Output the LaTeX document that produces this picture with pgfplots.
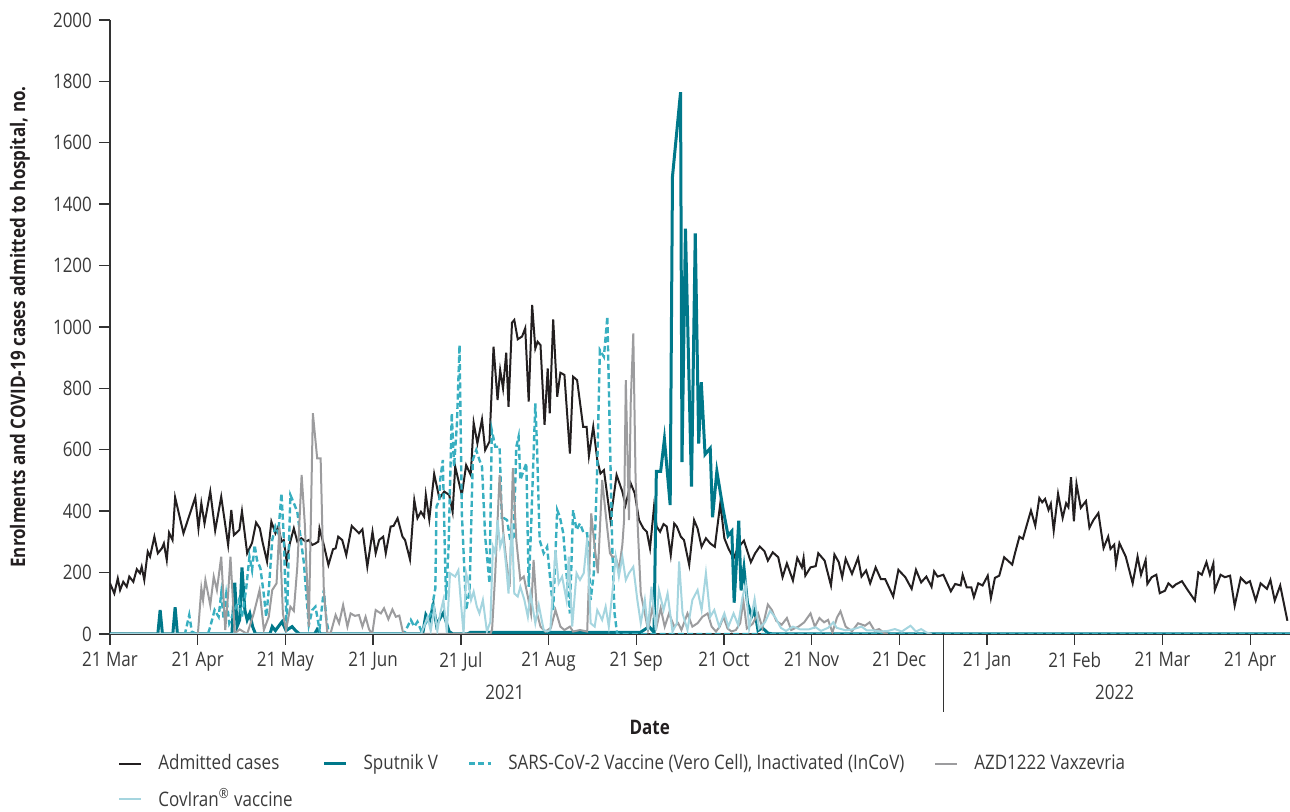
\documentclass[border=0pt]{standalone}
\usepackage{pgfplots}
\pgfplotsset{compat=1.18}
\usepackage{fontspec}
\setmainfont{Open Sans}[FakeStretch=0.85]
\definecolor{admc}{HTML}{231F20}
\definecolor{sputc}{HTML}{00788A}
\definecolor{incovc}{HTML}{38AFC0}
\definecolor{azdc}{HTML}{9C9C9E}
\definecolor{covc}{HTML}{A5D5DF}
\definecolor{axisgray}{HTML}{333333}
\definecolor{txt}{HTML}{3A3A3A}
\begin{document}
\begin{tikzpicture}
\begin{axis}[name=ax, scale only axis, width=590pt, height=307pt,
  xmin=0, xmax=409.5, ymin=0, ymax=2000,
  axis x line=bottom, axis y line=left,
  axis line style={-, draw=axisgray, line width=0.7pt},
  xtick={0,30.44,60.88,91.31,121.75,152.19,182.63,213.06,243.5,273.94,304.38,334.81,365.25,395.69},
  xticklabels={21 Mar,21 Apr,21 May,21 Jun,21 Jul,21 Aug,21 Sep,21 Oct,21 Nov,21 Dec,21 Jan,21 Feb,21 Mar,21 Apr},
  ytick={0,200,...,2000},
  tick align=outside, major tick length=5.5pt,
  tick style={draw=axisgray, line width=0.7pt},
  tick label style={font=\fontsize{10}{12}\selectfont, text=txt},
  yticklabel style={/pgf/number format/assume math mode=true, /pgf/number format/1000 sep={}},
  ylabel={Enrolments and COVID-19 cases admitted to hospital, no.},
  ylabel style={font=\fontsize{10}{12}\selectfont\bfseries, text=admc, at={(axis description cs:-0.0763,0.5)}, anchor=center},
  clip mode=individual,
  legend columns=4,
  legend cell align=left,
  legend style={draw=none, fill=none, at={(axis description cs:0.0068,-0.189)}, anchor=north west,
    inner sep=0pt, row sep=4pt, font=\fontsize{10}{12}\selectfont, text=txt,
    /tikz/every odd column/.append style={column sep=6pt},
    /tikz/every even column/.append style={column sep=13pt}},
  legend image code/.code={\draw[#1] (0pt,0pt) -- (11pt,0pt);},
]
% Admitted cases
\addplot[admc, line width=1pt] coordinates {
(0,165)(1.5,132)(2.7,181)(3.5,143)(4.6,170)(5.8,154)(6.7,187)(8.1,170)(9.3,211)(10.4,198)(11,219)(11.9,176)(13.1,268)(13.9,252)(15.4,317)(16.6,263)(18,279)(18.7,295)(19.7,241)(20.5,330)(21.7,306)(22.6,445)(25.5,328)(29.6,445)(30.7,344)(31.7,426)(32.8,360)(34.8,464)(36.5,337)(38.6,447)(41,290)(42.1,404)(43,322)(44.9,339)(45.8,400)(47.6,263)(49.3,297)(50.7,363)(52,344)(53,297)(54.5,236)(56,366)(57.4,328)(58.4,350)(59.5,301)(60.3,306)(61.3,236)(62.4,295)(63.8,344)(65,301)(66.4,312)(67.9,301)(69,306)(70.2,290)(71.3,295)(72.3,301)(72.7,344)(74.2,290)(75.8,225)(77.4,276)(78.3,279)(79.2,317)(80.6,306)(82,257)(83.9,352)(86.4,328)(87.6,341)(89.3,219)(91.1,333)(92.2,263)(93.4,306)(94.8,317)(95.7,263)(97.4,350)(98.4,352)(99.8,377)(101.5,317)(102.4,306)(104.1,243)(105.6,436)(106.7,377)(107.9,398)(109,382)(109.6,453)(110.8,373)(112.5,521)(114.3,442)(116,464)(117.7,453)(118.9,398)(119.8,545)
(122.1,453)(123.6,550)(125.2,518)(126.2,688)(127.5,621)(129.1,699)(130.2,599)(131.7,627)(133.1,936)(134.5,762)(135.4,860)(136.4,800)(137.5,916)(138.3,740)(139.5,1014)(140.3,1023)(141.5,960)(143,969)(144.1,996)(145.3,757)(146.5,1072)(147.6,930)(148.4,952)(149.4,941)(150.8,681)(151.9,865)(152.6,719)(153.8,1025)(155.2,773)(156.3,851)(157.7,844)(159.6,588)(160.7,838)(162.1,827)(164.2,675)(165.4,675)(166.2,580)(167.7,675)(169.1,567)(170.2,523)(171.4,534)(173.7,371)(175.8,518)(177.8,464)(178.9,420)(180.7,491)(182.1,458)(183.6,371)(185.1,344)(186.3,333)(187.4,279)(188.8,415)(189.7,350)(190.9,333)(192.1,358)(193.2,350)(194.6,257)(195.8,360)(196.7,350)(198.1,317)(199.2,306)(201,225)(202.7,371)(203.9,344)(205.3,284)(206.8,312)(208.3,295)(209.9,284)(211.8,426)(213.2,312)(214.6,279)(216.4,246)(217.8,279)
(220,304)(222.4,234)(223.9,263)(225.5,285)(227.1,270)(228.3,239)(230,266)(231.9,250)(233.4,185)(234.9,230)(237,174)(238.5,248)(240.1,217)(240.7,248)(241.3,190)(243.1,217)(244.9,221)(245.8,263)(248,239)(250.2,158)(251.4,259)(252.9,234)(254.1,185)(255.3,245)(257.5,196)(259.6,248)(260.8,187)(262.4,207)(263.8,165)(265.7,217)(267.5,179)(269,179)(271.8,122)(273.6,209)(276,185)(278.2,147)(279.7,209)(281.5,168)(283.3,187)(285.1,154)(286,204)(287.2,187)(289.2,193)(291.8,139)(293.3,163)(295.2,158)(295.9,193)(297.3,152)(298.9,152)(299.8,120)(301.3,165)(302.8,158)(304.6,190)(305.7,117)(307.1,183)(308.6,190)(310.3,250)(313.1,226)(314,261)(315.6,317)(316.8,310)(318,350)(319.6,402)(321.1,353)(322.5,443)(323.5,429)(324.5,440)(325.7,404)(326.5,424)(327.5,337)(329,457)(330.6,378)(331.8,426)(332.6,413)(333.5,511)(334.5,367)(335.4,489)(336.9,411)(338.7,433)(339.9,346)(341.2,370)(343,394)(344.8,280)(346.4,317)(347.2,277)(348.5,291)(349.1,228)(350.3,296)(352.5,252)(354.9,165)(356.6,252)(357.8,193)(359.4,241)(360,163)(361.5,185)(363.1,193)(364.3,133)(366.1,141)(367.3,165)(368.8,152)(369.8,161)(372,172)(374,143)(376.5,109)(377.7,201)(378.9,193)(380.5,234)(381.7,193)(382.9,230)(383.4,143)(385.4,193)(386.9,185)(388.7,190)(390.3,92)(392.4,183)(394.3,165)(395.6,172)(397.6,109)(399.3,165)(401.5,147)(402.7,176)(404.2,109)(406.1,158)(408.6,43)
};
\addlegendentry{Admitted cases}
% Sputnik V
\addplot[sputc, line width=1.5pt] coordinates {
(0,0)(16.6,0)(17.4,78)(18.2,0)(21.8,0)(22.6,87)(23.4,0)(42.3,0)(43.3,167)(44.1,24)(45,46)(45.8,217)(46.8,78)(47.6,46)(48.5,67)(49.5,24)(50.5,0)(55.5,0)(56.3,24)(57.4,11)(58.4,24)(59.7,40)(61.1,11)(63.2,24)(64.4,11)(65.8,0)(71,0)(71.9,15)(73.1,0)(108.5,0)(109.6,62)(110.8,40)(112.2,94)(113.3,29)(114.5,51)(115.7,69)(116.8,35)(117.7,8)(119,0)(124,0)(125,5)(184,5)(185.3,13)(187.1,24)(188.8,5)(189.6,530)(191.1,530)(192.4,635)(194.4,420)(195.2,1490)(198,1765)(198.5,560)(199.7,1320)(201.8,480)(203.1,1305)(204.3,620)(205.2,820)(206.5,585)(208.3,605)(209.1,380)(210.6,530)(212.7,410)(214.5,320)(215.8,335)(216.6,102)(218.2,369)(219,142)(220,216)(221.2,102)(222.7,57)(223.7,78)(224.9,11)(226.4,20)(228.3,3)(230,0)(409.5,0)
};
\addlegendentry{Sputnik V}
% InCoV
\addplot[incovc, line width=1.2pt, dash pattern=on 3pt off 1.6pt] coordinates {
(0,0)(26,0)(27.5,62)(28.4,8)(30,0)(34,0)(34.8,24)(36.3,78)(37.7,56)(38.6,132)(39.4,51)(40.3,127)(41.4,35)(42.8,67)(44.7,111)(45.8,56)(47.2,143)(48.4,252)(49.3,208)(50.2,290)(51,241)(52.2,214)(53.4,127)(54.2,56)(55.1,143)(56.3,306)(57.4,350)(58.4,328)(59.5,458)(60.3,317)(61.3,18)(62.6,453)(63.8,426)(65,398)(66.1,317)(67.3,230)(68.1,132)(69,29)(70.2,78)(71.3,89)(72.7,15)(74.2,143)(75.1,46)(76,0)(102,0)(104.4,46)(105.6,24)(106.7,40)(107.9,13)(109.6,35)(111.4,67)(112.9,149)(113.3,415)(114.3,436)(114.6,502)(115.5,567)(116.6,111)(117.5,284)(118.6,719)(119.4,545)(120.4,686)(121.3,941)(122.1,393)(123.6,78)(124.8,143)(125.9,567)(127.1,599)(128.2,567)(129.1,545)(130.2,317)(131.7,165)(132.5,664)(133.7,610)(135.2,610)(136,371)(136.8,377)(137.8,371)(138.9,306)(140.1,317)(141,610)(141.8,643)(142.4,502)(143.6,534)(144.5,556)(145.3,154)(146.1,339)(147.6,751)(148.2,610)(149.1,306)(150.5,263)(151.7,284)(152.8,176)(153.8,78)(155.2,404)(156.1,382)(157.3,328)(158.4,198)(159.6,67)(160.7,404)(161.9,339)(163.1,360)(164.4,328)(165.6,328)(166.8,111)(167.9,198)(169.1,545)(170,925)(171.4,903)(172.6,1034)(173.5,632)(174.3,284)(175.1,67)(176,0)(409.5,0)
};
\addlegendentry{SARS-CoV-2 Vaccine (Vero Cell), Inactivated (InCoV)}
% AZD1222
\addplot[azdc, line width=1pt] coordinates {
(0,0)(30.5,0)(31.7,149)(32.3,110)(33.1,176)(34.8,94)(36,187)(37.1,143)(38.6,252)(40,13)(41,132)(41.8,252)(43.3,2)(45,15)(47.6,0)(49.9,67)(51.9,143)(53.4,13)(55.1,56)(56.3,143)(57.8,165)(58.8,350)(60,67)(61.1,13)(62.6,89)(63.8,75)(65,219)(66.5,518)(67.6,360)(69,24)(70.4,719)(71.9,572)(73.1,572)(74.2,143)(75.4,4)(76.6,4)(78.3,62)(79.5,35)(80.9,94)(82.4,24)(83.5,67)(85,59)(86.4,62)(87.6,24)(88.7,56)(89.9,15)(91,0)(92.2,78)(94,67)(95.1,84)(96.6,48)(98,80)(99.2,56)(100.4,60)(101.7,4)(103,0)(132,0)(132.6,15)(133.7,198)(135.2,518)(136.4,339)(137.5,241)(138.7,154)(139.8,540)(141,306)(142.4,176)(143.6,187)(145,122)(146.1,67)(147,241)(148.2,67)(149.4,24)(151.1,8)(153,20)(154.6,78)(156.3,24)(157.7,13)(159.6,24)(160.7,8)(163.1,13)(165.6,8)(167,393)(168.2,284)(169.3,198)(170.8,502)(172,393)(173.5,263)(174.3,252)(175.5,252)(176.6,208)(177.8,290)(178.4,371)(179,827)(180.1,371)(180.7,751)(181.6,979)(182.4,502)(184.2,132)(185.6,67)(186.7,13)(188.2,84)(189.7,24)(191.1,84)(192.5,24)(194,67)(195.8,24)(197.2,35)(198.3,13)(200.4,67)(202.1,24)(203.9,35)(205.6,56)(207.4,67)(208.8,24)(210.3,8)(211.6,24)(212.9,56)(214.3,18)(215.7,8)(217.2,13)(218.7,35)(219.8,109)(221,18)(223,33)(224.9,67)(226.4,20)(228.3,96)(229.7,78)(231.2,43)(233.1,30)(234.9,52)(236.4,13)(238.9,24)(240.9,38)(243.1,67)(244.6,24)(246.2,52)(247.8,38)(249.2,46)(250.7,5)(252.3,54)(253.5,74)(255.3,24)(257.5,9)(259.6,35)(262,27)(263.6,38)(265.3,11)(266.9,16)(268.7,3)(270,0)
};
\addlegendentry{AZD1222 Vaxzevria}
% CovIran
\addplot[covc, line width=1pt] coordinates {
(0,0)(108,0)(110.2,56)(111.3,10)(112.5,84)(113.6,10)(114.6,67)(115.7,111)(116.9,4)(118,198)(119.8,187)(120.9,208)(121.75,105)(122.7,2)(123.6,198)(124.4,165)(125.3,111)(126.2,138)(127.3,89)(128.2,67)(129.4,111)(130.8,8)(132,40)(132.9,284)(133.7,263)(134.5,371)(135.4,284)(136.4,317)(137.5,219)(138.3,132)(139.5,360)(140.3,132)(141.5,122)(142.4,154)(143.8,111)(145,56)(145.9,132)(147.6,35)(148.8,94)(150.5,13)(151.7,8)(152.8,13)(154.6,274)(155.7,165)(156.9,187)(158.4,111)(159.2,252)(160.4,24)(161.9,198)(163.1,176)(164.4,198)(165.6,312)(166.8,35)(168.2,24)(169.1,78)(170.8,46)(172,89)(173.1,24)(174.3,132)(175.5,252)(176.6,187)(177.8,252)(179,176)(180.1,198)(181.6,219)(183,111)(184.2,35)(185.6,111)(186.7,13)(187.9,154)(189.4,13)(190.5,143)(192.1,78)(193.5,132)(195.2,8)(196.7,35)(197.5,236)(198.7,67)(200.4,13)(202.1,111)(203.9,143)(205.3,78)(206.8,198)(208.3,56)(209.7,78)(211.4,24)(213.2,67)(214.6,24)(216.4,67)(218,29)(219.5,120)(220.6,163)(221.8,18)(223.7,114)(225.2,18)(227.3,38)(229.1,76)(231,52)(232.8,20)(234.6,10)(237,24)(239.5,15)(242.5,15)(244.9,22)(246.7,10)(249.2,20)(251,38)(252.2,20)(255.3,12)(257.7,15)(260.8,24)(262.6,12)(265,12)(267.2,8)(269.9,10)(272.4,16)(274.8,8)(277.8,27)(279.7,8)(281.5,16)(283.3,5)(285.1,0)
};
\addlegendentry{CovIran\textsuperscript{®} vaccine}
% year grouping
\node[font=\fontsize{10}{12}\selectfont, text=txt] at ([yshift=-29pt]axis cs:137,0) {2021};
\node[font=\fontsize{10}{12}\selectfont, text=txt] at ([yshift=-29pt]axis cs:348.6,0) {2022};
\draw[axisgray, line width=0.7pt] (axis cs:289.2,0) -- ([yshift=-39pt]axis cs:289.2,0);
\node[font=\fontsize{10}{12}\selectfont\bfseries, text=admc] at ([yshift=-46.5pt]axis cs:187.3,0) {Date};
\end{axis}
\pgfresetboundingbox
\path[use as bounding box] ([xshift=-55pt,yshift=-89pt]ax.south west) rectangle ([yshift=10pt]ax.north east);
\end{tikzpicture}
\end{document}
